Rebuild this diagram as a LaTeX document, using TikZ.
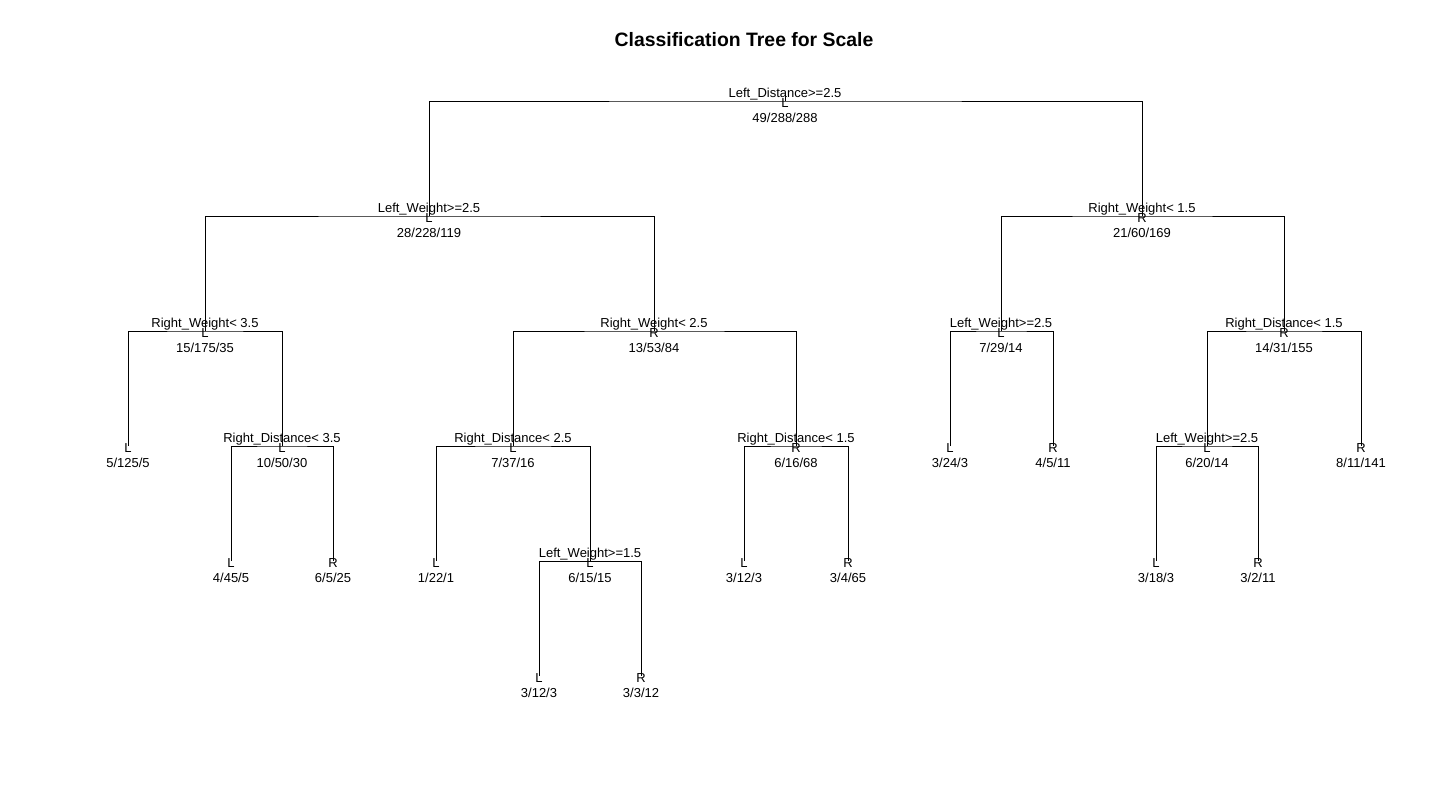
\documentclass[tikz,border=0pt]{standalone}
\usepackage{fontspec}
\setmainfont{Liberation Sans}
\usetikzlibrary{calc,positioning}
\tikzset{branch/.style={line width=1pt}}
\tikzset{splitlbl/.style={font=\fontsize{13}{13}\selectfont, inner sep=0pt, anchor=base}}
\tikzset{classlbl/.style={font=\fontsize{13}{13}\selectfont, inner sep=0pt, anchor=base}}
\tikzset{countlbl/.style={font=\fontsize{13}{13}\selectfont, inner sep=0pt, anchor=base}}

\begin{document}
\begin{tikzpicture}[x=1pt,y=-1pt]
      \useasboundingbox (0,0) rectangle (1451,796);
      \node[font=\bfseries\fontsize{19.4}{20}\selectfont] (title) at (744,40) {Classification Tree for Scale};
      % nodes of the tree, numbered as rpart does
      \coordinate (n1) at (785,101);
      \coordinate (t1) at (785,96);
      \coordinate (n2) at (429,216);
      \coordinate (n3) at (1142,216);
      \coordinate (n4) at (205,331);
      \coordinate (n5) at (654,331);
      \coordinate (n6) at (1001,331);
      \coordinate (n7) at (1284,331);
      \coordinate (n8) at (128,446);
      \coordinate (n9) at (282,446);
      \coordinate (n10) at (513,446);
      \coordinate (n11) at (796,446);
      \coordinate (n12) at (950,446);
      \coordinate (n13) at (1053,446);
      \coordinate (n14) at (1207,446);
      \coordinate (n15) at (1361,446);
      \coordinate (n18) at (231,561);
      \coordinate (n19) at (333,561);
      \coordinate (n20) at (436,561);
      \coordinate (n21) at (590,561);
      \coordinate (n22) at (744,561);
      \coordinate (n23) at (848,561);
      \coordinate (n28) at (1156,561);
      \coordinate (n29) at (1258,561);
      \coordinate (n42) at (539,676);
      \coordinate (n43) at (641,676);
      % branches
      \draw[branch] (t1) -- (n1);
      \draw[branch] (n2) |- (n1) -| (n3);
      \draw[branch] (n4) |- (n2) -| (n5);
      \draw[branch] (n6) |- (n3) -| (n7);
      \draw[branch] (n8) |- (n4) -| (n9);
      \draw[branch] (n10) |- (n5) -| (n11);
      \draw[branch] (n12) |- (n6) -| (n13);
      \draw[branch] (n14) |- (n7) -| (n15);
      \draw[branch] (n18) |- (n9) -| (n19);
      \draw[branch] (n20) |- (n10) -| (n21);
      \draw[branch] (n22) |- (n11) -| (n23);
      \draw[branch] (n28) |- (n14) -| (n29);
      \draw[branch] (n42) |- (n21) -| (n43);
      % split rules
      \foreach \n/\rule in {1/{Left\_Distance>=2.5}, 2/{Left\_Weight>=2.5}, 3/{Right\_Weight< 1.5},
          4/{Right\_Weight< 3.5}, 5/{Right\_Weight< 2.5}, 6/{Left\_Weight>=2.5}, 7/{Right\_Distance< 1.5},
          9/{Right\_Distance< 3.5}, 10/{Right\_Distance< 2.5}, 11/{Right\_Distance< 1.5},
          14/{Left\_Weight>=2.5}, 21/{Left\_Weight>=1.5}}
        \node[splitlbl] (s\n) at ([yshift=4pt]n\n) {\rule};
      % predicted class and counts
      \foreach \n/\cls/\cnt in {1/L/{49/288/288}, 2/L/{28/228/119}, 3/R/{21/60/169}, 4/L/{15/175/35},
          5/R/{13/53/84}, 6/L/{7/29/14}, 7/R/{14/31/155}, 8/L/{5/125/5}, 9/L/{10/50/30}, 10/L/{7/37/16},
          11/R/{6/16/68}, 12/L/{3/24/3}, 13/R/{4/5/11}, 14/L/{6/20/14}, 15/R/{8/11/141}, 18/L/{4/45/5},
          19/R/{6/5/25}, 20/L/{1/22/1}, 21/L/{6/15/15}, 22/L/{3/12/3}, 23/R/{3/4/65}, 28/L/{3/18/3},
          29/R/{3/2/11}, 42/L/{3/12/3}, 43/R/{3/3/12}}
        {
        \node[classlbl] (c\n) at ([yshift=-6.5pt]n\n) {\cls};
        \node[countlbl] (k\n) at ([yshift=-21.5pt]n\n) {\cnt};
        }
    \end{tikzpicture}
\end{document}
